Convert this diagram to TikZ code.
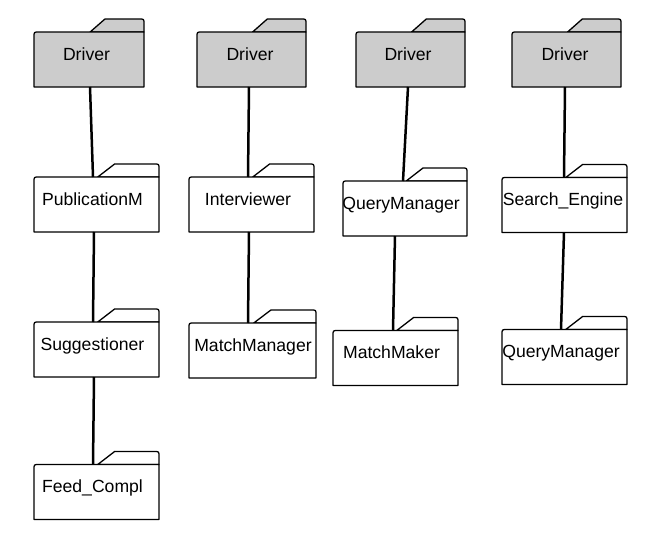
\documentclass[tikz,border=0pt]{standalone}
\usepackage{fontspec}
\setmainfont{Liberation Sans}
\usetikzlibrary{calc}
\definecolor{drvgray}{HTML}{CCCCCC}
\tikzset{
  pkg/.style={rectangle, inner sep=0pt, outer sep=0pt, minimum height=55pt, draw=none},
  outline/.style={draw=black, line width=1.3pt, line join=round},
  lbl/.style={anchor=base, inner sep=0pt, font=\fontsize{17.6}{20}\selectfont},
  conn/.style={draw=black, line width=2.5pt},
}
\newcommand\folderdraw[2]{%
  \draw[outline, fill=#2]
    ($(#1.north west)!0.51!(#1.north east)$) --
    ($(#1.north west)!0.645!(#1.north east)+(0,-13)$) --
    ($(#1.north east)+(-5,-13)$) .. controls ($(#1.north east)+(0,-13)$) ..
    ($(#1.north east)+(0,-8)$) -- (#1.north east) -- cycle;
  \draw[outline, fill=#2]
    (#1.south west) -- ($(#1.north west)+(0,5)$) .. controls (#1.north west) ..
    ($(#1.north west)+(5,0)$) -- (#1.north east) -- (#1.south east) -- cycle;
}
\begin{document}
\begin{tikzpicture}[x=1pt,y=-1pt]
\useasboundingbox (0,0) rectangle (651,546);
% column 1
\node[pkg, minimum width=110pt] (d1) at (89,59.5) {};
\node[pkg, minimum width=125pt] (pub) at (96.5,204.5) {};
\node[pkg, minimum width=125pt] (sug) at (96.5,349.5) {};
\node[pkg, minimum width=125pt] (feed) at (96.5,492) {};
% column 2
\node[pkg, minimum width=109pt] (d2) at (251.5,59.5) {};
\node[pkg, minimum width=125pt] (intv) at (251.5,204.5) {};
\node[pkg, minimum width=127pt] (mman) at (252.5,350.5) {};
% column 3
\node[pkg, minimum width=109pt] (d3) at (410.5,59.5) {};
\node[pkg, minimum width=124pt] (qm) at (405,208.5) {};
\node[pkg, minimum width=125pt] (mmak) at (395.5,358) {};
% column 4
\node[pkg, minimum width=109pt] (d4) at (566.5,59.5) {};
\node[pkg, minimum width=125pt] (se) at (564.5,205) {};
\node[pkg, minimum width=125pt] (qm2) at (564.5,357) {};

\folderdraw{d1}{drvgray}
\folderdraw{d2}{drvgray}
\folderdraw{d3}{drvgray}
\folderdraw{d4}{drvgray}
\folderdraw{pub}{white}
\folderdraw{sug}{white}
\folderdraw{feed}{white}
\folderdraw{intv}{white}
\folderdraw{mman}{white}
\folderdraw{qm}{white}
\folderdraw{mmak}{white}
\folderdraw{se}{white}
\folderdraw{qm2}{white}

% connectors
\draw[conn] ([xshift=1pt]d1.south) -- ([xshift=-3.5pt]pub.north);
\draw[conn] ([xshift=-2.5pt]pub.south) -- ([xshift=-3.5pt]sug.north);
\draw[conn] ([xshift=-2.5pt]sug.south) -- ([xshift=-3.5pt]feed.north);
\draw[conn] ([xshift=-2.5pt]d2.south) -- ([xshift=-3.5pt]intv.north);
\draw[conn] ([xshift=-2.5pt]intv.south) -- ([xshift=-4.5pt]mman.north);
\draw[conn] ([xshift=-2.5pt]d3.south) -- ([xshift=-2pt]qm.north);
\draw[conn] ([xshift=-10pt]qm.south) -- ([xshift=-2.5pt]mmak.north);
\draw[conn] ([xshift=-1.5pt]d4.south) -- ([xshift=-0.5pt]se.north);
\draw[conn] ([xshift=-0.5pt]se.south) -- ([xshift=-3.5pt]qm2.north);

% labels
\node[lbl] (d1l) at ([xshift=-2.5pt,yshift=-28pt]d1.north) {Driver};
\node[lbl] (d2l) at ([xshift=-1.5pt,yshift=-28pt]d2.north) {Driver};
\node[lbl] (d3l) at ([xshift=-2.5pt,yshift=-28pt]d3.north) {Driver};
\node[lbl] (d4l) at ([xshift=-1.5pt,yshift=-28pt]d4.north) {Driver};
\node[lbl] (publ) at ([xshift=-4pt,yshift=-28pt]pub.north) {PublicationM};
\node[lbl] (sugl) at ([xshift=-4pt,yshift=-28pt]sug.north) {Suggestioner};
\node[lbl] (feedl) at ([xshift=-4pt,yshift=-28pt]feed.north) {Feed\_Compl};
\node[lbl] (intvl) at ([xshift=-3.5pt,yshift=-28pt]intv.north) {Interviewer};
\node[lbl] (mmanl) at ([xshift=0.5pt,yshift=-28pt]mman.north) {MatchManager};
\node[lbl] (qml) at ([xshift=-4pt,yshift=-28pt]qm.north) {QueryManager};
\node[lbl] (mmakl) at ([xshift=-4pt,yshift=-28pt]mmak.north) {MatchMaker};
\node[lbl] (sel) at ([xshift=-1.5pt,yshift=-28pt]se.north) {Search\_Engine};
\node[lbl] (qm2l) at ([xshift=-3.5pt,yshift=-28pt]qm2.north) {QueryManager};
\end{tikzpicture}
\end{document}
